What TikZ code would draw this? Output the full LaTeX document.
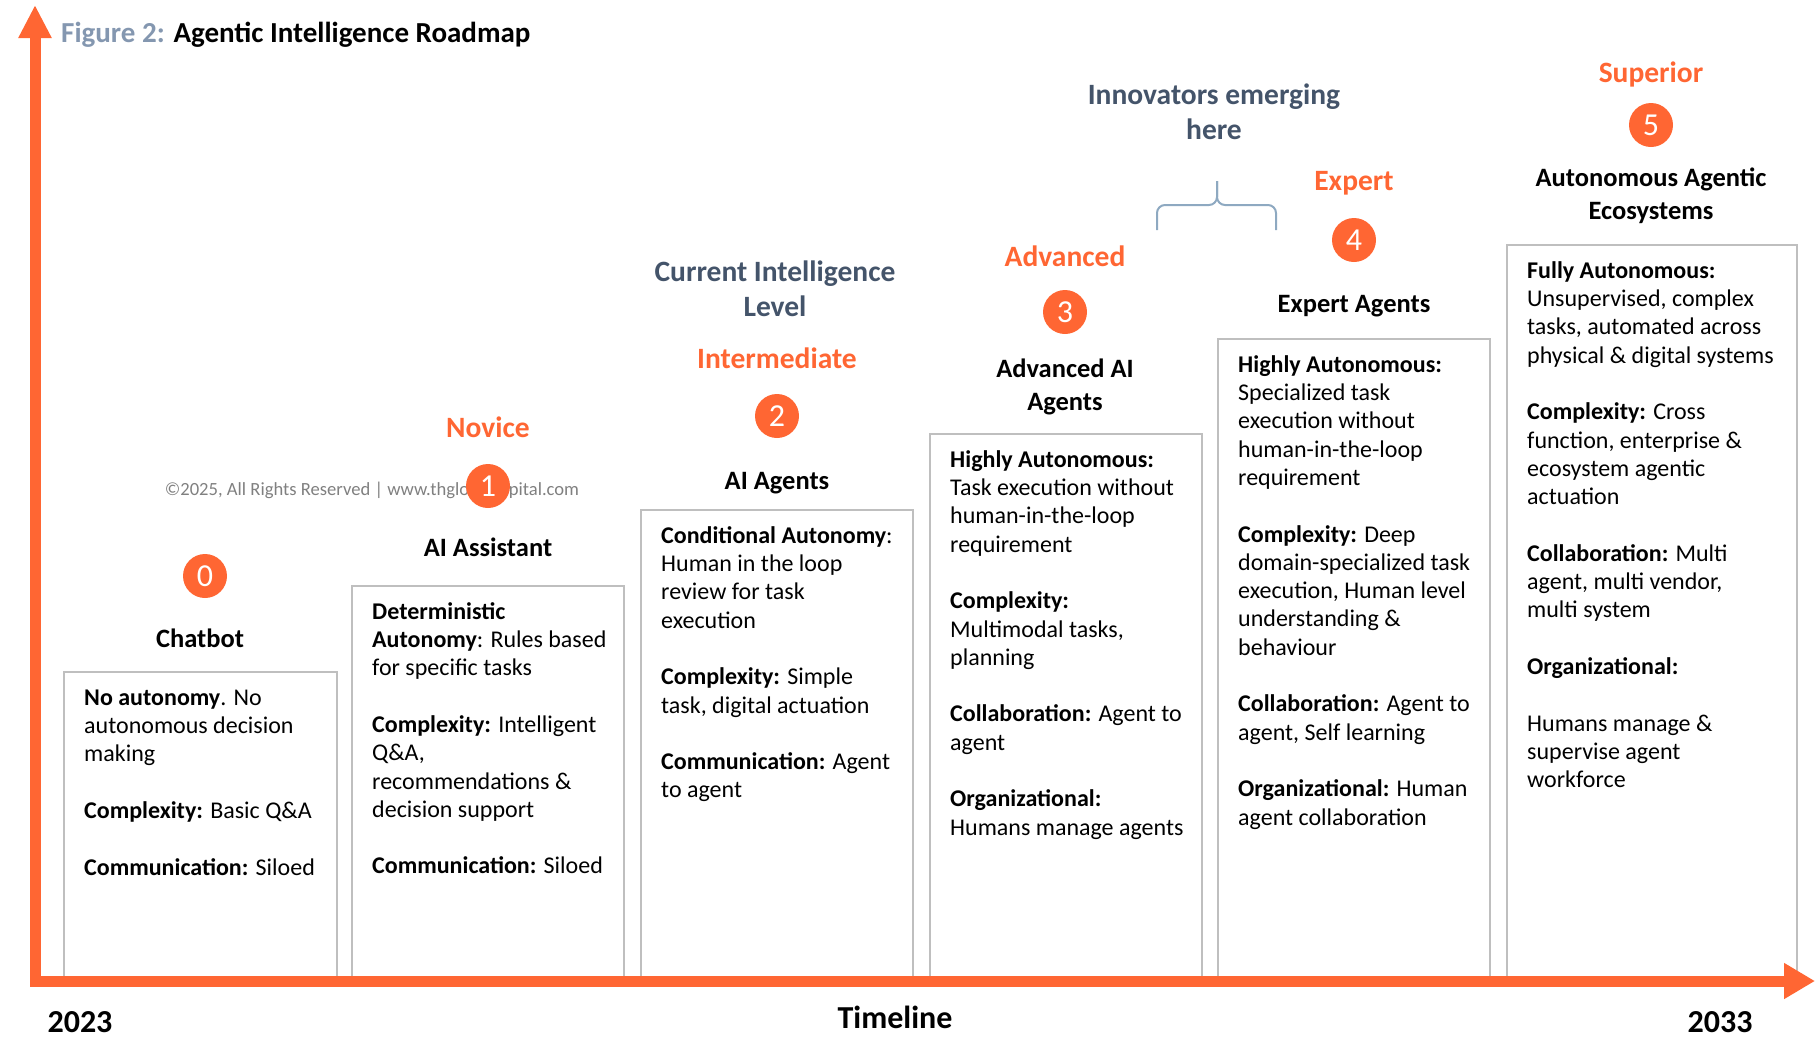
\documentclass[tikz,border=0pt]{standalone}
\usepackage{fontspec}
\setmainfont{Carlito}
\usetikzlibrary{arrows.meta}
\definecolor{roadorange}{HTML}{FF6633}
\definecolor{slate}{HTML}{44546A}
\definecolor{figgrey}{HTML}{8497B0}
\definecolor{bracegrey}{HTML}{8EA9C1}
\definecolor{cardline}{HTML}{BFBFBF}
\definecolor{notegrey}{HTML}{808080}
\newcommand{\gap}{\\[28.3pt]}
\newcommand{\firstline}{\rule{0pt}{20pt}}
\tikzset{
	card/.style={draw=cardline,line width=1.5pt,anchor=north west,inner sep=0pt,outer sep=0pt},
	cardtext/.style={anchor=north west,inner sep=0pt,align=left,font=\fontsize{24}{28.3}\selectfont},
	stagetitle/.style={align=center,inner sep=0pt,font=\bfseries\fontsize{26.5}{33}\selectfont},
	level/.style={anchor=base,inner sep=0pt,text=roadorange,font=\bfseries\fontsize{29.5}{34}\selectfont},
	badge/.style={circle,fill=roadorange,text=white,minimum size=44pt,inner sep=0pt,font=\fontsize{32}{32}\selectfont},
	callout/.style={align=center,inner sep=0pt,text=slate,font=\bfseries\fontsize{29.5}{35}\selectfont},
	year/.style={anchor=base,inner sep=0pt,font=\bfseries\fontsize{32}{32}\selectfont},
	axis/.style={roadorange,line width=11pt,line join=miter,{Triangle[length=33pt,width=31pt]}-{Triangle[length=31pt,width=34pt]}},
	brace/.style={bracegrey,line width=2pt,rounded corners=8pt},
}
\begin{document}
\begin{tikzpicture}[x=1pt,y=-1pt]
	\useasboundingbox (0,0) rectangle (1816,1037);
	% title
	\node[anchor=base west,inner sep=0pt,font=\bfseries\fontsize{29}{34}\selectfont] (title) at (61,42)
		{\textcolor{figgrey}{Figure 2:} Agentic Intelligence Roadmap};
	% stage cards
	\foreach \i/\x/\y/\w/\h in {0/64/672/273/309,1/352/586/272/395,2/641/510/272/471,3/930/434/272/547,4/1218/339/272/642,5/1507/245/290/736}
		\node[card,minimum width=\w pt,minimum height=\h pt] (box\i) at (\x,\y) {};
	% card texts
	\node[cardtext] (text0) at ([shift={(20,13)}]box0.north west) {\firstline\textbf{No autonomy}. No\\autonomous decision\\making\gap
		\textbf{Complexity:} Basic Q\&A\gap
		\textbf{Communication:} Siloed};
	\node[cardtext] (text1) at ([shift={(20,13)}]box1.north west) {\firstline\textbf{Deterministic}\\\textbf{Autonomy}: Rules based\\for specific tasks\gap
		\textbf{Complexity:} Intelligent\\Q\&A,\\recommendations \&\\decision support\gap
		\textbf{Communication:} Siloed};
	\node[cardtext] (text2) at ([shift={(20,13)}]box2.north west) {\firstline\textbf{Conditional Autonomy}:\\Human in the loop\\review for task\\execution\gap
		\textbf{Complexity:} Simple\\task, digital actuation\gap
		\textbf{Communication:} Agent\\to agent};
	\node[cardtext] (text3) at ([shift={(20,13)}]box3.north west) {\firstline\textbf{Highly Autonomous:}\\Task execution without\\human-in-the-loop\\requirement\gap
		\textbf{Complexity:}\\Multimodal tasks,\\planning\gap
		\textbf{Collaboration:} Agent to\\agent\gap
		\textbf{Organizational:}\\Humans manage agents};
	\node[cardtext] (text4) at ([shift={(20,13)}]box4.north west) {\firstline\textbf{Highly Autonomous:}\\Specialized task\\execution without\\human-in-the-loop\\requirement\gap
		\textbf{Complexity:} Deep\\domain-specialized task\\execution, Human level\\understanding \&\\behaviour\gap
		\textbf{Collaboration:} Agent to\\agent, Self learning\gap
		\textbf{Organizational:} Human\\agent collaboration};
	\node[cardtext] (text5) at ([shift={(20,13)}]box5.north west) {\firstline\textbf{Fully Autonomous:}\\Unsupervised, complex\\tasks, automated across\\physical \& digital systems\gap
		\textbf{Complexity:} Cross\\function, enterprise \&\\ecosystem agentic\\actuation\gap
		\textbf{Collaboration:} Multi\\agent, multi vendor,\\multi system\gap
		\textbf{Organizational:}\gap
		Humans manage \&\\supervise agent\\workforce};
	% stage titles
	\node[stagetitle,anchor=base] (name0) at (200,647) {Chatbot};
	\node[stagetitle,anchor=base] (name1) at (488,556) {AI Assistant};
	\node[stagetitle,anchor=base] (name2) at (777,489) {AI Agents};
	\node[stagetitle] (name3) at (1065,387) {Advanced AI\\Agents};
	\node[stagetitle] (name4) at (1354,306) {Expert Agents};
	\node[stagetitle] (name5) at (1651,196) {Autonomous Agentic\\Ecosystems};
	% copyright
	\node[inner sep=0pt,text=notegrey,font=\fontsize{18.6}{21}\selectfont] (copy) at (372,490)
		{\textcopyright2025, All Rights Reserved | www.thglobalcapital.com};
	% levels
	\foreach \n/\x/\y/\lbl in {1/488/437/Novice,2/777/368/Intermediate,3/1065/266/Advanced,4/1354/190/Expert,5/1651/82/Superior}
		\node[level] (level\n) at (\x,\y) {\lbl};
	\foreach \n/\x/\y in {0/205/576,1/488/486,2/777/416,3/1065/312,4/1354/240,5/1651/125}
		\node[badge] (badge\n) at (\x,\y) {\n};
	% callouts
	\node[callout] (current) at (775,289) {Current Intelligence\\Level};
	\node[callout] (innov) at (1214,112) {Innovators emerging\\here};
	\coordinate (braceL) at (1157,230);
	\coordinate (braceR) at (1276,230);
	\coordinate (braceMid) at (1217,205);
	\coordinate (braceTip) at (1217,181);
	\draw[brace] (braceL) |- (braceMid) -- (braceTip);
	\draw[brace] (braceR) |- (braceMid) -- (braceTip);
	% axes
	\coordinate (ytip) at (35,5);
	\coordinate (origin) at (35,981);
	\coordinate (xtip) at (1815,981);
	\draw[axis] (ytip) -- (origin) -- (xtip);
	\node[year] (start) at (80,1032) {2023};
	\node[year] (finish) at (1720,1032) {2033};
	\node[year] (timeline) at (895,1028) {Timeline};
\end{tikzpicture}
\end{document}
